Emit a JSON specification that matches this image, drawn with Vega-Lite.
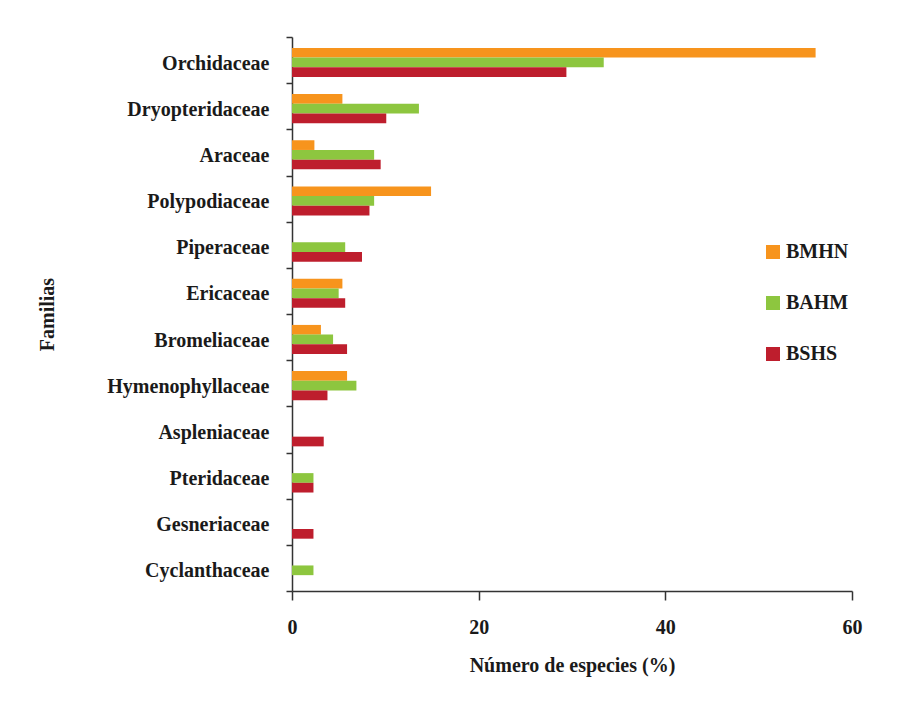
{
  "$schema": "https://vega.github.io/schema/vega-lite/v6.json",
  "width": 560,
  "height": 554,
  "autosize": {"type": "none"},
  "padding": {"left": 292, "top": 37, "right": 50, "bottom": 119},
  "background": "white",
  "data": {
    "values": [
      {"familia": "Orchidaceae", "bosque": "BMHN", "pct": 56.1},
      {"familia": "Orchidaceae", "bosque": "BAHM", "pct": 33.4},
      {"familia": "Orchidaceae", "bosque": "BSHS", "pct": 29.4},
      {"familia": "Dryopteridaceae", "bosque": "BMHN", "pct": 5.4},
      {"familia": "Dryopteridaceae", "bosque": "BAHM", "pct": 13.6},
      {"familia": "Dryopteridaceae", "bosque": "BSHS", "pct": 10.1},
      {"familia": "Araceae", "bosque": "BMHN", "pct": 2.4},
      {"familia": "Araceae", "bosque": "BAHM", "pct": 8.8},
      {"familia": "Araceae", "bosque": "BSHS", "pct": 9.5},
      {"familia": "Polypodiaceae", "bosque": "BMHN", "pct": 14.9},
      {"familia": "Polypodiaceae", "bosque": "BAHM", "pct": 8.8},
      {"familia": "Polypodiaceae", "bosque": "BSHS", "pct": 8.3},
      {"familia": "Piperaceae", "bosque": "BAHM", "pct": 5.7},
      {"familia": "Piperaceae", "bosque": "BSHS", "pct": 7.5},
      {"familia": "Ericaceae", "bosque": "BMHN", "pct": 5.4},
      {"familia": "Ericaceae", "bosque": "BAHM", "pct": 5.0},
      {"familia": "Ericaceae", "bosque": "BSHS", "pct": 5.7},
      {"familia": "Bromeliaceae", "bosque": "BMHN", "pct": 3.1},
      {"familia": "Bromeliaceae", "bosque": "BAHM", "pct": 4.4},
      {"familia": "Bromeliaceae", "bosque": "BSHS", "pct": 5.9},
      {"familia": "Hymenophyllaceae", "bosque": "BMHN", "pct": 5.9},
      {"familia": "Hymenophyllaceae", "bosque": "BAHM", "pct": 6.9},
      {"familia": "Hymenophyllaceae", "bosque": "BSHS", "pct": 3.8},
      {"familia": "Aspleniaceae", "bosque": "BSHS", "pct": 3.4},
      {"familia": "Pteridaceae", "bosque": "BAHM", "pct": 2.3},
      {"familia": "Pteridaceae", "bosque": "BSHS", "pct": 2.3},
      {"familia": "Gesneriaceae", "bosque": "BSHS", "pct": 2.3},
      {"familia": "Cyclanthaceae", "bosque": "BAHM", "pct": 2.3}
    ]
  },
  "mark": {"type": "bar"},
  "encoding": {
    "y": {
      "field": "familia",
      "type": "nominal",
      "sort": ["Orchidaceae", "Dryopteridaceae", "Araceae", "Polypodiaceae", "Piperaceae", "Ericaceae", "Bromeliaceae", "Hymenophyllaceae", "Aspleniaceae", "Pteridaceae", "Gesneriaceae", "Cyclanthaceae"],
      "scale": {"paddingInner": 0, "paddingOuter": 0},
      "axis": {
        "title": "Familias",
        "titleFont": "Liberation Serif",
        "titleFontSize": 20,
        "titleFontWeight": "bold",
        "titleColor": "#1a1a1a",
        "titleX": -245,
        "titleY": 277,
        "titleAngle": -90,
        "titleBaseline": "middle",
        "labelFont": "Liberation Serif",
        "labelFontSize": 20,
        "labelFontWeight": "bold",
        "labelColor": "#1a1a1a",
        "labelPadding": 17,
        "labelOffset": 3,
        "tickSize": 6,
        "tickColor": "#333333",
        "tickWidth": 1.5,
        "tickBand": "extent",
        "domainColor": "#333333",
        "domainWidth": 1.5,
        "grid": false
      }
    },
    "yOffset": {
      "field": "bosque",
      "type": "nominal",
      "sort": ["BMHN", "BAHM", "BSHS"],
      "scale": {"paddingInner": 0, "paddingOuter": 0.88, "align": 0.64}
    },
    "x": {
      "field": "pct",
      "type": "quantitative",
      "scale": {"domain": [0, 60], "nice": false},
      "axis": {
        "title": "Número de  especies (%)",
        "values": [0, 20, 40, 60],
        "titleFont": "Liberation Serif",
        "titleFontSize": 20,
        "titleFontWeight": "bold",
        "titleColor": "#1a1a1a",
        "titlePadding": 18,
        "labelFont": "Liberation Serif",
        "labelFontSize": 20,
        "labelFontWeight": "bold",
        "labelColor": "#1a1a1a",
        "labelPadding": 17,
        "labelFlush": false,
        "tickSize": 9,
        "tickColor": "#333333",
        "tickWidth": 1.5,
        "domainColor": "#333333",
        "domainWidth": 1.5,
        "grid": false
      }
    },
    "color": {
      "field": "bosque",
      "type": "nominal",
      "sort": ["BMHN", "BAHM", "BSHS"],
      "scale": {"domain": ["BMHN", "BAHM", "BSHS"], "range": ["#F7941D", "#8DC63F", "#BE1E2D"]},
      "legend": {
        "title": null,
        "orient": "none",
        "legendX": 471,
        "legendY": 205,
        "symbolType": "square",
        "symbolSize": 196,
        "symbolStrokeWidth": 0,
        "labelFont": "Liberation Serif",
        "labelFontSize": 20,
        "labelFontWeight": "bold",
        "labelColor": "#1a1a1a",
        "labelOffset": 3,
        "rowPadding": 31
      }
    }
  },
  "config": {
    "view": {"stroke": null}
  }
}
